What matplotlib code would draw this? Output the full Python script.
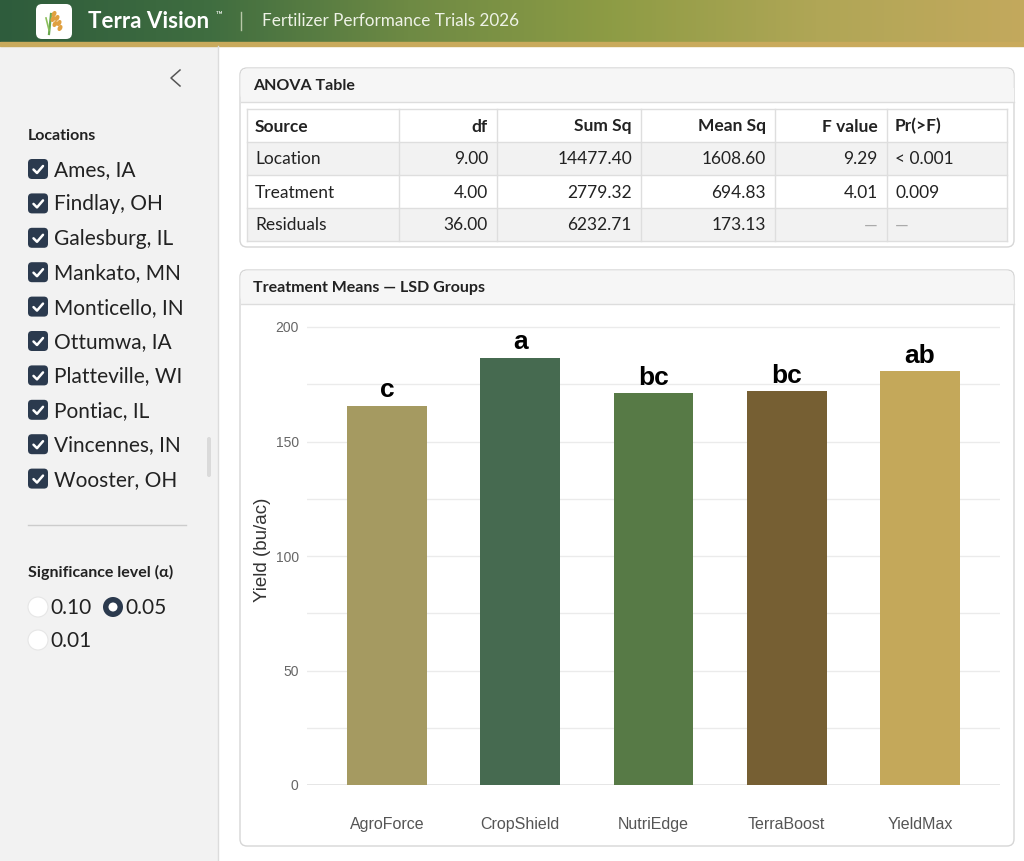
"""
Terra Vision dashboard: ANOVA table and treatment means bar chart
"""

import numpy as np
import matplotlib.pyplot as plt
from matplotlib.patches import FancyBboxPatch, Rectangle, Circle, Ellipse
from matplotlib.colors import LinearSegmentedColormap

W, H = 1024, 861

# data
locations = ['Ames, IA', 'Findlay, OH', 'Galesburg, IL', 'Mankato, MN', 'Monticello, IN',
             'Ottumwa, IA', 'Platteville, WI', 'Pontiac, IL', 'Vincennes, IN', 'Wooster, OH']
alpha_options = ['0.10', '0.05', '0.01']
alpha_selected = '0.05'

anova_columns = ['Source', 'df', 'Sum Sq', 'Mean Sq', 'F value', 'Pr(>F)']
anova_sources = ['Location', 'Treatment', 'Residuals']
anova_df = ['9.00', '4.00', '36.00']
anova_sumsq = ['14477.40', '2779.32', '6232.71']
anova_meansq = ['1608.60', '694.83', '173.13']
anova_f = ['9.29', '4.01', '—']
anova_p = ['< 0.001', '0.009', '—']

treatments = ['AgroForce', 'CropShield', 'NutriEdge', 'TerraBoost', 'YieldMax']
yield_means = [165.7, 186.5, 171.0, 172.0, 180.6]
lsd_groups = ['c', 'a', 'bc', 'bc', 'ab']
bar_colors = ['#a59a61', '#466a50', '#577a46', '#765f33', '#c4a85a']

UI_FONT = ['Lato', 'DejaVu Sans']
CHART_FONT = ['Liberation Sans', 'DejaVu Sans']
NAVY = '#2b3a4e'
TEXT = '#222222'

fig = plt.figure(figsize=(W / 100, H / 100), dpi=100)
bg = fig.add_axes([0, 0, 1, 1])
bg.set_xlim(0, W)
bg.set_ylim(H, 0)
bg.axis('off')

# header gradient
header_cmap = LinearSegmentedColormap.from_list(
    'hdr', ['#2e5c3c', '#3f6d40', '#6e8a44', '#8e9c45', '#b0a656', '#c3a95d'])
grad = np.linspace(0, 1, 512).reshape(1, -1)
bg.imshow(grad, cmap=header_cmap, extent=(0, W, 42, 0), aspect='auto', zorder=1)
bg.add_patch(Rectangle((0, 42), W, 4, color='#c9aa5c', zorder=2))

# logo
bg.add_patch(FancyBboxPatch((36, 4), 36, 35, boxstyle='round,pad=0,rounding_size=6',
                            facecolor='white', edgecolor='none', zorder=3))
bg.plot([49, 50, 51], [34, 24, 14], color='#6aa84f', lw=1.6, zorder=4)
bg.plot([49, 46], [30, 18], color='#8bbf5a', lw=1.2, zorder=4)
for dx, dy in [(54, 14), (57, 18), (59, 23), (60, 28), (53, 19), (55, 24)]:
    bg.add_patch(Ellipse((dx, dy), 3, 5, angle=30, color='#e0a040', zorder=4))
bg.text(88, 21, 'Terra Vision', color='white', fontsize=16, fontweight='bold',
        family=UI_FONT, va='center', ha='left', zorder=4)
bg.text(216, 15, '™', color='white', fontsize=6.5, family=UI_FONT, va='center', zorder=4)
bg.plot([241, 241], [12, 30], color='#b8c8a8', lw=1, zorder=4)
bg.text(262, 21, 'Fertilizer Performance Trials 2026', color='#eef2e6', fontsize=12.3,
        family=UI_FONT, va='center', ha='left', zorder=4)

# sidebar
bg.add_patch(Rectangle((0, 46), 217, H - 46, color='#f2f2f2', zorder=1))
bg.plot([217.5, 217.5], [46, H], color='#dcdcdc', lw=1, zorder=2)
bg.plot([180, 171, 180], [70, 78, 86], color='#555555', lw=1.1, zorder=3)
bg.text(28, 136, 'Locations', fontsize=11.5, fontweight='bold', family=UI_FONT,
        color=TEXT, va='center', zorder=3)
for i, loc in enumerate(locations):
    yc = 169 + i * 34.4
    bg.add_patch(FancyBboxPatch((28, yc - 10), 20, 20, boxstyle='round,pad=0,rounding_size=4',
                                facecolor=NAVY, edgecolor='none', zorder=3))
    bg.plot([33.5, 37, 43], [yc + 0.5, yc + 4, yc - 3], color='white', lw=1.8,
            solid_capstyle='round', zorder=4)
    bg.text(54, yc + 1, loc, fontsize=15, family=UI_FONT, color=TEXT, va='center', zorder=3)
bg.add_patch(FancyBboxPatch((207, 437), 4, 40, boxstyle='round,pad=0,rounding_size=2',
                            facecolor='#dadada', edgecolor='none', zorder=3))
bg.plot([28, 186], [525, 525], color='#cccccc', lw=1, zorder=3)
bg.text(28, 572, 'Significance level (α)', fontsize=11.5, fontweight='bold', family=UI_FONT,
        color=TEXT, va='center', zorder=3)
radio_pos = [(38, 607), (113, 607), (38, 640)]
for (rx, ry), opt in zip(radio_pos, alpha_options):
    if opt == alpha_selected:
        bg.add_patch(Circle((rx, ry), 10, facecolor=NAVY, edgecolor='none', zorder=3))
        bg.add_patch(Circle((rx, ry), 4.5, facecolor='white', edgecolor='none', zorder=4))
    else:
        bg.add_patch(Circle((rx, ry), 10, facecolor='white', edgecolor='#e6e6e6', lw=0.8, zorder=3))
    bg.text(rx + 12, ry + 1, opt, fontsize=15, family=UI_FONT, color=TEXT, va='center', zorder=3)


def card(y0, y1, title):
    bg.add_patch(FancyBboxPatch((240, y0), 774, y1 - y0, boxstyle='round,pad=0,rounding_size=7',
                                facecolor='white', edgecolor='#d6d6d6', lw=1, zorder=2))
    bg.add_patch(FancyBboxPatch((240.5, y0 + 0.5), 773, 33, boxstyle='round,pad=0,rounding_size=7',
                                facecolor='#f6f6f6', edgecolor='none', zorder=2))
    bg.add_patch(Rectangle((240.5, y0 + 20), 773, 14, facecolor='#f6f6f6', edgecolor='none', zorder=2))
    bg.plot([240.5, 1013.5], [y0 + 34, y0 + 34], color='#dddddd', lw=1, zorder=3)
    bg.text(253, y0 + 18, title, fontsize=11.5, fontweight='bold', family=UI_FONT,
            color=TEXT, va='center', zorder=3)


card(68, 247, 'ANOVA Table')
card(270, 846, 'Treatment Means — LSD Groups')

# ANOVA table
col_edges = [247, 399, 497, 641, 775, 887, 1007]
row_edges = [109, 142, 175, 208, 241]
rows = [anova_columns] + [list(r) for r in zip(anova_sources, anova_df, anova_sumsq,
                                                 anova_meansq, anova_f, anova_p)]
for r in range(len(rows)):
    ya, yb = row_edges[r], row_edges[r + 1]
    fill = '#f2f2f2' if r in (1, 3) else 'white'
    bg.add_patch(Rectangle((col_edges[0], ya), col_edges[-1] - col_edges[0], yb - ya,
                           facecolor=fill, edgecolor='none', zorder=3))
    for c in range(len(anova_columns)):
        txt = rows[r][c]
        is_dash = txt == '—'
        color = '#aaaaaa' if is_dash else TEXT
        weight = 'bold' if r == 0 else 'normal'
        ym = (ya + yb) / 2 + 1
        if c == 0 or c == 5:
            bg.text(col_edges[c] + 8, ym, txt, fontsize=12.5, fontweight=weight, family=UI_FONT,
                    color=color, ha='left', va='center', zorder=4)
        else:
            bg.text(col_edges[c + 1] - 9, ym, txt, fontsize=12.5, fontweight=weight, family=UI_FONT,
                    color=color, ha='right', va='center', zorder=4)
for y in row_edges:
    bg.plot([col_edges[0], col_edges[-1]], [y, y], color='#dedede', lw=1, zorder=4)
for x in col_edges:
    bg.plot([x, x], [row_edges[0], row_edges[-1]], color='#dedede', lw=1, zorder=4)

# bar chart
y0_px, ymax = 785, 205
px_per = 2.29
top_px = y0_px - ymax * px_per
ax = fig.add_axes([307 / W, (H - y0_px) / H, 693 / W, (y0_px - top_px) / H])
ax.set_facecolor('none')
x = np.arange(len(treatments))
ax.bar(x, yield_means, width=0.6, color=bar_colors, zorder=3)
for xi, v, g in zip(x, yield_means, lsd_groups):
    ax.text(xi, v + 1.5, g, ha='center', va='bottom', fontsize=19, fontweight='bold',
            family=CHART_FONT, color='black', zorder=4)
ax.set_xlim(-0.6, len(treatments) - 0.4)
ax.set_ylim(0, ymax)
yt = np.arange(0, 201, 25)
ax.set_yticks(yt)
ax.set_yticklabels([str(v) if v % 50 == 0 else '' for v in yt])
ax.set_xticks(x)
ax.set_xticklabels(treatments)
ax.grid(axis='y', color='#ebebeb', lw=1, zorder=0)
for s in ax.spines.values():
    s.set_visible(False)
ax.axhline(0, color='#e2e2e2', lw=1.2, zorder=2)
ax.tick_params(axis='both', length=0)
ax.tick_params(axis='y', pad=6, labelsize=10, labelcolor='#666666')
ax.tick_params(axis='x', pad=23, labelsize=11.5, labelcolor='#555555')
for lab in ax.get_xticklabels() + ax.get_yticklabels():
    lab.set_family(CHART_FONT)
ax.set_ylabel('Yield (bu/ac)', fontsize=13.5, color='#333333', family=CHART_FONT, labelpad=3)

fig.savefig('out.png', dpi=100)
